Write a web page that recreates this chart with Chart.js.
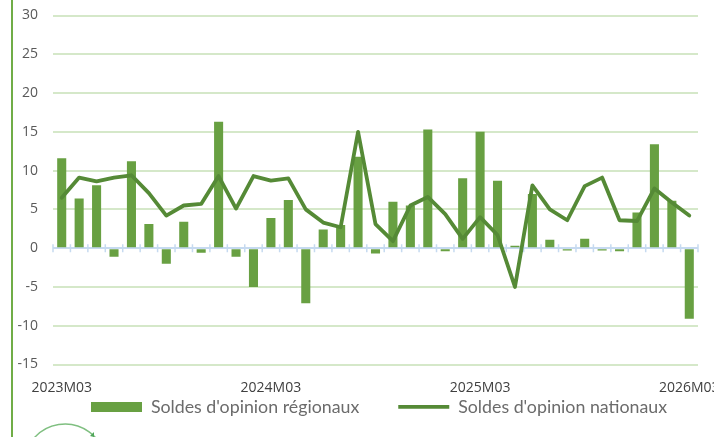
<!DOCTYPE html>
<html><head><meta charset="utf-8">
<style>html,body{margin:0;padding:0;background:#fff;overflow:hidden}#w{position:relative;width:714px;height:437px}</style>
<script src="https://cdn.jsdelivr.net/npm/chart.js@4"></script>
</head><body><div id="w"><canvas id="c" width="714" height="437"></canvas></div>
<script>
const categories = ["2023M03","2023M04","2023M05","2023M06","2023M07","2023M08","2023M09","2023M10","2023M11","2023M12","2024M01","2024M02","2024M03","2024M04","2024M05","2024M06","2024M07","2024M08","2024M09","2024M10","2024M11","2024M12","2025M01","2025M02","2025M03","2025M04","2025M05","2025M06","2025M07","2025M08","2025M09","2025M10","2025M11","2025M12","2026M01","2026M02","2026M03"];
const regionaux = [11.6,6.4,8.1,-1.1,11.2,3.1,-2,3.4,-0.6,16.3,-1.1,-5,3.9,6.2,-7.1,2.4,3,11.8,-0.7,6,5.5,15.3,-0.4,9,15,8.7,0.3,7,1.1,-0.3,1.2,-0.3,-0.4,4.6,13.4,6.1,-9.1];
const nationaux = [6.5,9.1,8.6,9.1,9.4,7.1,4.2,5.5,5.7,9.3,5.1,9.3,8.7,9,5,3.3,2.7,15,3.1,0.9,5.5,6.6,4.4,1.2,4,1.7,-5,8.1,5,3.6,8,9.1,3.6,3.5,7.7,5.9,4.2];
const labelEvery = 12;
const serieNames = ["Soldes d'opinion régionaux","Soldes d'opinion nationaux"];

const decor = {
  id:'decor',
  beforeLayout(chart){
    const l = chart.legend;
    if(!l._fitWrapped){
      const f = l.fit;
      l.fit = function(){ f.call(this); this.height = 20; };
      l._fitWrapped = true;
    }
  },
  afterLayout(chart){
    const l = chart.legend;
    l.left = 52; l.right = 714; l.top = 359; l.bottom = 437;
  },
  beforeDatasetsDraw(chart){
    const {ctx, scales:{x,y}} = chart;
    const y0 = y.getPixelForValue(0);
    ctx.save();
    ctx.strokeStyle = '#c6daf0'; ctx.lineWidth = 1.5;
    ctx.beginPath();
    for(let i=0;i<=categories.length;i++){
      const px = i<categories.length ? x.getPixelForValue(i)-x.width/categories.length/2 : x.right;
      ctx.moveTo(px,y0-4); ctx.lineTo(px,y0+4);
    }
    ctx.stroke();
    ctx.restore();
  },
  afterDraw(chart){
    const {ctx} = chart;
    ctx.save();
    ctx.strokeStyle='#70ad47'; ctx.lineWidth=2;
    ctx.beginPath(); ctx.moveTo(12,0); ctx.lineTo(12,437); ctx.stroke();
    ctx.strokeStyle='#7fbf80'; ctx.lineWidth=1.5;
    ctx.beginPath(); ctx.arc(65,465,41,Math.PI*1.2,Math.PI*1.8); ctx.stroke();
    ctx.fillStyle='#4fa65a';
    ctx.beginPath(); ctx.moveTo(94,432); ctx.lineTo(90,436); ctx.lineTo(94,437); ctx.fill();
    ctx.restore();
  }
};

new Chart(document.getElementById('c'),{
  data:{labels:categories,datasets:[
    {type:'bar',label:serieNames[0],data:regionaux,backgroundColor:'#68a042',borderWidth:0,barPercentage:0.52,categoryPercentage:1,order:2,pointStyle:'rect'},
    {type:'line',label:serieNames[1],data:nationaux,borderColor:'#558a36',backgroundColor:'#558a36',borderWidth:3.8,pointRadius:0,tension:0,borderJoinStyle:'round',borderCapStyle:'round',order:1,pointStyle:'line'}
  ]},
  plugins:[decor],
  options:{
    responsive:false,animation:false,
    layout:{padding:{top:15.5,right:16,left:0,bottom:20.5}},
    scales:{
      x:{
        offset:true,
        grid:{display:false},border:{display:false},
        ticks:{autoSkip:false,maxRotation:0,minRotation:0,padding:7,color:'#404040',font:{family:'"Open Sans"',size:14},
          callback(v,i){return i%labelEvery===0?categories[i]:'';}},
        afterFit(s){s.paddingLeft=0;s.paddingRight=0;s.height=32;}
      },
      y:{
        min:-15,max:30,
        grid:{drawTicks:false,lineWidth:2,color(c){return c.tick.value===0?'#c6daf0':'#d5e8c9';}},
        border:{display:false},
        ticks:{stepSize:5,padding:15,color:'#595959',font:{family:'"Open Sans"',size:14}},
        afterFit(s){s.width=53;s.paddingTop=0;s.paddingBottom=0;}
      }
    },
    plugins:{
      tooltip:{enabled:false},
      legend:{position:'bottom',align:'start',
        labels:{usePointStyle:true,pointStyleWidth:51,boxHeight:10,padding:39,color:'#6b6b6b',font:{family:'Lato',size:17.8},
          sort:(a,b)=>a.datasetIndex-b.datasetIndex}
      }
    }
  }
});
</script></body></html>
